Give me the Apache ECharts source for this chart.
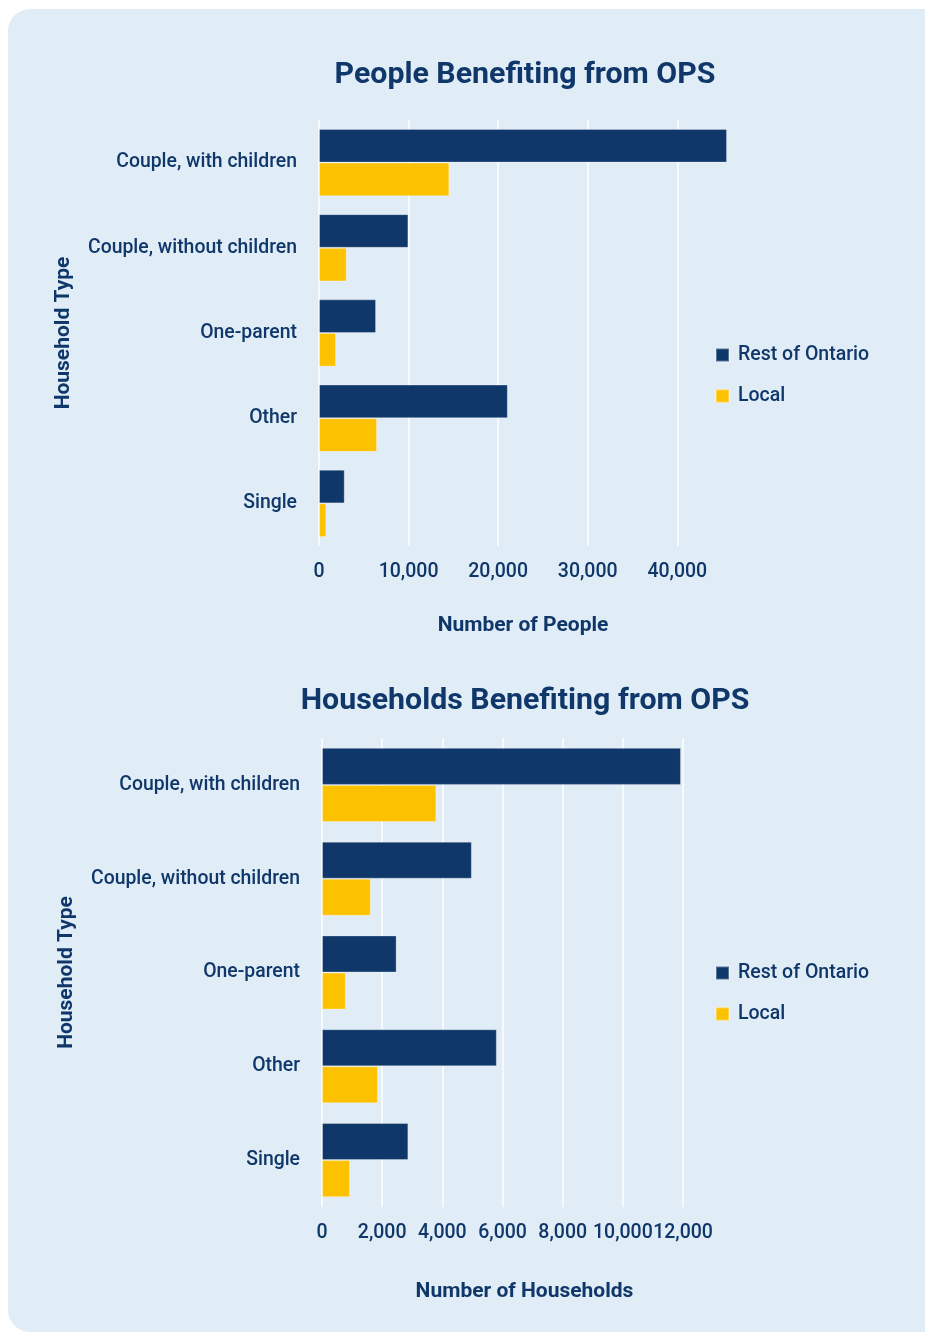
<!DOCTYPE html>
<html>
<head>
<meta charset="utf-8">
<script src="https://cdn.jsdelivr.net/npm/echarts@6/dist/echarts.min.js"></script>
<style>
  body { margin: 0; background: #ffffff; }
  #card { position: absolute; left: 8px; top: 9px; width: 940px; height: 1323px; background: #e0ecf6; border-radius: 22px; }
  #chart { position: absolute; left: 0; top: 0; width: 925px; height: 1334px; }
</style>
</head>
<body>
<div id="card"></div>
<div id="chart"></div>
<script>
    // datos de las graficas
    var categorias = ['Couple, with children', 'Couple, without children', 'One-parent', 'Other', 'Single'];
    var series_nombres = ['Rest of Ontario', 'Local'];

    var personas_resto = [45550, 9980, 6370, 21080, 2870];
    var personas_local = [14550, 3090, 1900, 6480, 820];

    var hogares_resto = [11930, 4980, 2480, 5810, 2870];
    var hogares_local = [3800, 1620, 790, 1860, 930];

    var ticks_personas = [0, 10000, 20000, 30000, 40000];
    var ticks_hogares = [0, 2000, 4000, 6000, 8000, 10000, 12000];

    var azul = '#0f3769';
    var amarillo = '#fcc200';
    var fuente = 'Roboto, sans-serif';

    function fmt(v) { return v.toLocaleString('en-US'); }

    function ejeX(idx, nombre, ticks, max, gap) {
        return {
            type: 'value', gridIndex: idx,
            min: 0, max: max, interval: ticks[1] - ticks[0],
            name: nombre, nameLocation: 'middle', nameGap: gap,
            nameTextStyle: { color: azul, fontFamily: fuente, fontWeight: 'bold', fontSize: 21 },
            axisLine: { show: false }, axisTick: { show: false },
            axisLabel: {
                color: azul, fontFamily: fuente, fontWeight: 500, fontSize: 19.5, margin: 16,
                showMaxLabel: false,
                formatter: function (v) { return ticks.indexOf(v) >= 0 ? fmt(v) : ''; }
            },
            splitLine: { show: true, showMaxLine: false, lineStyle: { color: '#ffffff', width: 1.5 } }
        };
    }

    function ejeY(idx) {
        return {
            type: 'category', gridIndex: idx, inverse: true, data: categorias,
            name: 'Household Type', nameLocation: 'middle', nameGap: 245, nameRotate: 90,
            nameTextStyle: { color: azul, fontFamily: fuente, fontWeight: 'bold', fontSize: 21 },
            axisLine: { show: false }, axisTick: { show: false },
            axisLabel: { color: azul, fontFamily: fuente, fontWeight: 500, fontSize: 19.4, margin: 22 }
        };
    }

    function barra(nombre, datos, color, idx) {
        return {
            name: nombre, type: 'bar', data: datos,
            xAxisIndex: idx, yAxisIndex: idx,
            barGap: '0%', barCategoryGap: '21%',
            itemStyle: { color: color, borderColor: 'rgba(255,255,255,0.3)', borderWidth: 1 }
        };
    }

    var leyenda = {
        orient: 'vertical', icon: 'rect', itemWidth: 13, itemHeight: 13, itemGap: 21, padding: 0,
        textStyle: { color: azul, fontFamily: fuente, fontWeight: 500, fontSize: 19.5, padding: [0, 0, 0, 4] },
        data: series_nombres
    };

    var grafico = echarts.init(document.getElementById('chart'));

    grafico.setOption({
        backgroundColor: 'transparent',
        animation: false,
        title: [
            { text: 'People Benefiting from OPS', left: 520, top: 55, textAlign: 'center',
              textStyle: { color: azul, fontFamily: fuente, fontWeight: 'bold', fontSize: 30.3 } },
            { text: 'Households Benefiting from OPS', left: 520, top: 681, textAlign: 'center',
              textStyle: { color: azul, fontFamily: fuente, fontWeight: 'bold', fontSize: 30.3 } }
        ],
        legend: [
            Object.assign({}, leyenda, { left: 715, top: 345 }),
            Object.assign({}, leyenda, { left: 715, top: 963 })
        ],
        grid: [
            { left: 319, top: 120, width: 408, height: 426 },
            { left: 322, top: 738, width: 405, height: 469 }
        ],
        xAxis: [
            ejeX(0, 'Number of People', ticks_personas, 'dataMax', 69),
            ejeX(1, 'Number of Households', ticks_hogares, 13460, 74)
        ],
        yAxis: [ejeY(0), ejeY(1)],
        series: [
            barra(series_nombres[0], personas_resto, azul, 0),
            barra(series_nombres[1], personas_local, amarillo, 0),
            barra(series_nombres[0], hogares_resto, azul, 1),
            barra(series_nombres[1], hogares_local, amarillo, 1)
        ]
    });
</script>
</body>
</html>
